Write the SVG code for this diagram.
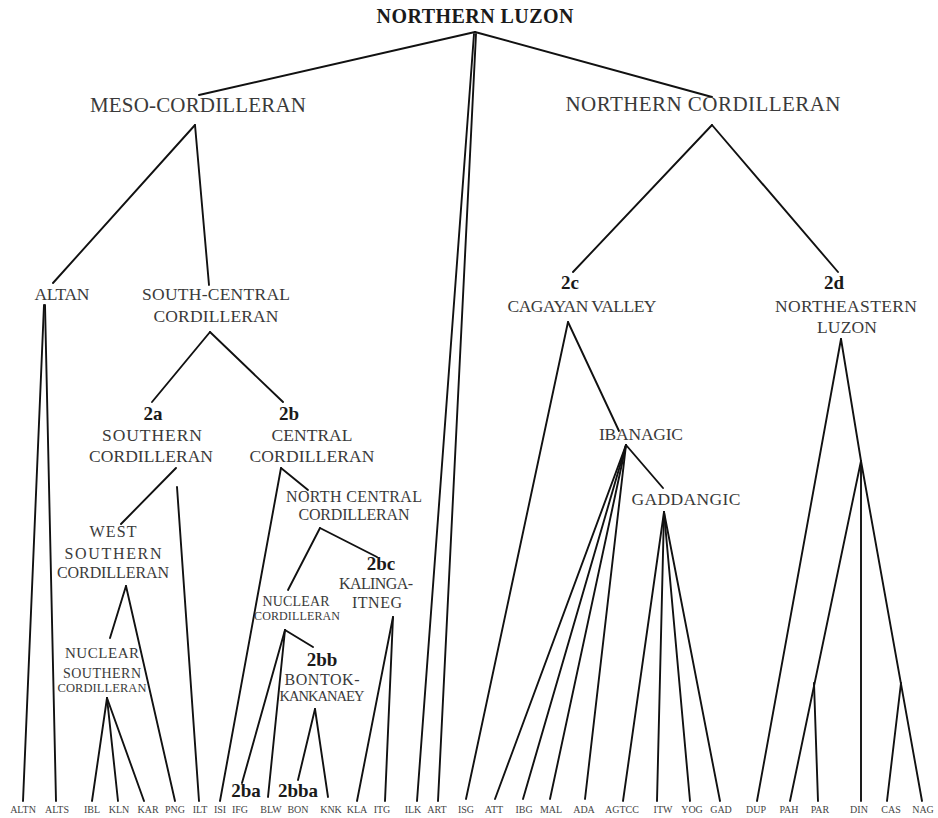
<svg xmlns="http://www.w3.org/2000/svg" width="938" height="818" viewBox="0 0 938 818">
<style>
text{font-family:"Liberation Serif","Times New Roman",serif;text-anchor:middle;fill:#3a3a3a}
.root{font-size:20px;font-weight:bold;fill:#1a1a1a}
.l1{font-size:21px}
.l2{font-size:17.5px}
.l3{font-size:16px}
.b{font-size:19px;font-weight:bold;fill:#1a1a1a}
.leaf{font-size:10px;fill:#444}
#connectors line{stroke:#111;stroke-width:1.9;stroke-linecap:round}
</style>
<rect width="938" height="818" fill="#fff"/>
<g id="connectors">
<line x1="475" y1="32" x2="199" y2="95"/>
<line x1="475" y1="32" x2="712" y2="97"/>
<line x1="474" y1="34" x2="417" y2="801"/>
<line x1="476" y1="34" x2="438" y2="801"/>
<line x1="195" y1="125" x2="53" y2="283"/>
<line x1="195" y1="125" x2="209" y2="285"/>
<line x1="44" y1="305" x2="23" y2="801"/>
<line x1="45" y1="305" x2="56" y2="801"/>
<line x1="210" y1="332" x2="152" y2="402"/>
<line x1="210" y1="332" x2="283" y2="402"/>
<line x1="176" y1="468" x2="121" y2="524"/>
<line x1="177" y1="487" x2="199" y2="801"/>
<line x1="126" y1="586" x2="110" y2="638"/>
<line x1="126" y1="586" x2="175" y2="801"/>
<line x1="107" y1="698" x2="92" y2="801"/>
<line x1="107" y1="698" x2="118" y2="801"/>
<line x1="107" y1="698" x2="144" y2="801"/>
<line x1="281" y1="468" x2="220" y2="801"/>
<line x1="281" y1="468" x2="308" y2="490"/>
<line x1="320" y1="528" x2="288" y2="590"/>
<line x1="320" y1="528" x2="377" y2="557"/>
<line x1="393" y1="617" x2="357" y2="801"/>
<line x1="393" y1="617" x2="385" y2="801"/>
<line x1="285" y1="630" x2="313" y2="647"/>
<line x1="285" y1="630" x2="242" y2="783"/>
<line x1="285" y1="630" x2="268" y2="797"/>
<line x1="315" y1="709" x2="298" y2="780"/>
<line x1="315" y1="709" x2="328" y2="797"/>
<line x1="712" y1="125" x2="573" y2="272"/>
<line x1="712" y1="125" x2="838" y2="272"/>
<line x1="568" y1="322" x2="466" y2="799"/>
<line x1="568" y1="322" x2="619" y2="431"/>
<line x1="626" y1="445" x2="495" y2="799"/>
<line x1="626" y1="445" x2="523" y2="799"/>
<line x1="626" y1="445" x2="550" y2="799"/>
<line x1="626" y1="445" x2="585" y2="799"/>
<line x1="626" y1="445" x2="663" y2="488"/>
<line x1="664" y1="512" x2="623" y2="801"/>
<line x1="664" y1="512" x2="657" y2="801"/>
<line x1="664" y1="512" x2="690" y2="801"/>
<line x1="664" y1="512" x2="720" y2="801"/>
<line x1="841" y1="339" x2="757" y2="801"/>
<line x1="841" y1="339" x2="861" y2="461"/>
<line x1="861" y1="461" x2="790" y2="801"/>
<line x1="861" y1="461" x2="861" y2="801"/>
<line x1="861" y1="461" x2="922" y2="801"/>
<line x1="814" y1="683" x2="818" y2="801"/>
<line x1="901" y1="683" x2="887" y2="801"/>
</g>
<g id="n-northern-luzon"><text class="root" x="475" y="23" textLength="197">NORTHERN LUZON</text></g>
<g id="n-meso"><text class="l1" x="198" y="112" textLength="216">MESO-CORDILLERAN</text></g>
<g id="n-northern-cord"><text class="l1" x="703" y="111" textLength="275">NORTHERN CORDILLERAN</text></g>
<g id="n-altan"><text class="l2" x="62" y="300" textLength="55">ALTAN</text></g>
<g id="n-south-central"><text class="l2" x="216" y="300" textLength="148">SOUTH-CENTRAL</text><text class="l2" x="216" y="322" textLength="125">CORDILLERAN</text></g>
<g id="n-2a"><text class="b" x="153" y="420">2a</text><text class="l2" x="152" y="441" textLength="100">SOUTHERN</text><text class="l2" x="151" y="462" textLength="124">CORDILLERAN</text></g>
<g id="n-2b"><text class="b" x="289" y="420">2b</text><text class="l2" x="312" y="441" textLength="81">CENTRAL</text><text class="l2" x="312" y="462" textLength="125">CORDILLERAN</text></g>
<g id="n-west-southern"><text class="l3" x="113" y="537" textLength="47">WEST</text><text class="l3" x="113" y="559" textLength="97">SOUTHERN</text><text class="l3" x="113" y="578" textLength="112">CORDILLERAN</text></g>
<g id="n-nuclear-southern"><text x="102" y="658" font-size="15" textLength="74">NUCLEAR</text><text x="102" y="678" font-size="14" textLength="78">SOUTHERN</text><text x="102" y="692" font-size="12.5" textLength="89">CORDILLERAN</text></g>
<g id="n-north-central"><text class="l3" x="354" y="502" textLength="136">NORTH CENTRAL</text><text class="l3" x="354" y="520" textLength="111">CORDILLERAN</text></g>
<g id="n-2bc"><text class="b" x="381" y="570">2bc</text><text class="l3" x="376" y="589" textLength="74">KALINGA-</text><text class="l3" x="377" y="608" textLength="50">ITNEG</text></g>
<g id="n-nuclear-cord"><text x="296" y="606" font-size="14" textLength="67">NUCLEAR</text><text x="297" y="620" font-size="12" textLength="86">CORDILLERAN</text></g>
<g id="n-2bb"><text class="b" x="322" y="666">2bb</text><text class="l3" x="322" y="685" textLength="75">BONTOK-</text><text x="322" y="701" font-size="14.5" textLength="85">KANKANAEY</text></g>
<g id="n-2ba"><text class="b" x="246" y="797">2ba</text></g>
<g id="n-2bba"><text class="b" x="298" y="797">2bba</text></g>
<g id="n-2c"><text class="b" x="570" y="289">2c</text><text class="l2" x="582" y="312" textLength="149">CAGAYAN VALLEY</text></g>
<g id="n-2d"><text class="b" x="834" y="289">2d</text><text class="l2" x="846" y="312" textLength="142">NORTHEASTERN</text><text class="l2" x="847" y="333" textLength="60">LUZON</text></g>
<g id="n-ibanagic"><text class="l2" x="641" y="440" textLength="84">IBANAGIC</text></g>
<g id="n-gaddangic"><text class="l2" x="686" y="505" textLength="109">GADDANGIC</text></g>
<g id="leaves">
<g id="n-altn"><text class="leaf" x="23" y="813">ALTN</text></g>
<g id="n-alts"><text class="leaf" x="57" y="813">ALTS</text></g>
<g id="n-ibl"><text class="leaf" x="92" y="813">IBL</text></g>
<g id="n-kln"><text class="leaf" x="119" y="813">KLN</text></g>
<g id="n-kar"><text class="leaf" x="148" y="813">KAR</text></g>
<g id="n-png"><text class="leaf" x="175" y="813">PNG</text></g>
<g id="n-ilt"><text class="leaf" x="200" y="813">ILT</text></g>
<g id="n-isi"><text class="leaf" x="220" y="813">ISI</text></g>
<g id="n-ifg"><text class="leaf" x="240" y="813">IFG</text></g>
<g id="n-blw"><text class="leaf" x="271" y="813">BLW</text></g>
<g id="n-bon"><text class="leaf" x="298" y="813">BON</text></g>
<g id="n-knk"><text class="leaf" x="331" y="813">KNK</text></g>
<g id="n-kla"><text class="leaf" x="357" y="813">KLA</text></g>
<g id="n-itg"><text class="leaf" x="382" y="813">ITG</text></g>
<g id="n-ilk"><text class="leaf" x="413" y="813">ILK</text></g>
<g id="n-art"><text class="leaf" x="437" y="813">ART</text></g>
<g id="n-isg"><text class="leaf" x="466" y="813">ISG</text></g>
<g id="n-att"><text class="leaf" x="494" y="813">ATT</text></g>
<g id="n-ibg"><text class="leaf" x="524" y="813">IBG</text></g>
<g id="n-mal"><text class="leaf" x="551" y="813">MAL</text></g>
<g id="n-ada"><text class="leaf" x="584" y="813">ADA</text></g>
<g id="n-agtcc"><text class="leaf" x="622" y="813">AGTCC</text></g>
<g id="n-itw"><text class="leaf" x="663" y="813">ITW</text></g>
<g id="n-yog"><text class="leaf" x="692" y="813">YOG</text></g>
<g id="n-gad"><text class="leaf" x="721" y="813">GAD</text></g>
<g id="n-dup"><text class="leaf" x="756" y="813">DUP</text></g>
<g id="n-pah"><text class="leaf" x="789" y="813">PAH</text></g>
<g id="n-par"><text class="leaf" x="820" y="813">PAR</text></g>
<g id="n-din"><text class="leaf" x="859" y="813">DIN</text></g>
<g id="n-cas"><text class="leaf" x="891" y="813">CAS</text></g>
<g id="n-nag"><text class="leaf" x="923" y="813">NAG</text></g>
</g>
</svg>
